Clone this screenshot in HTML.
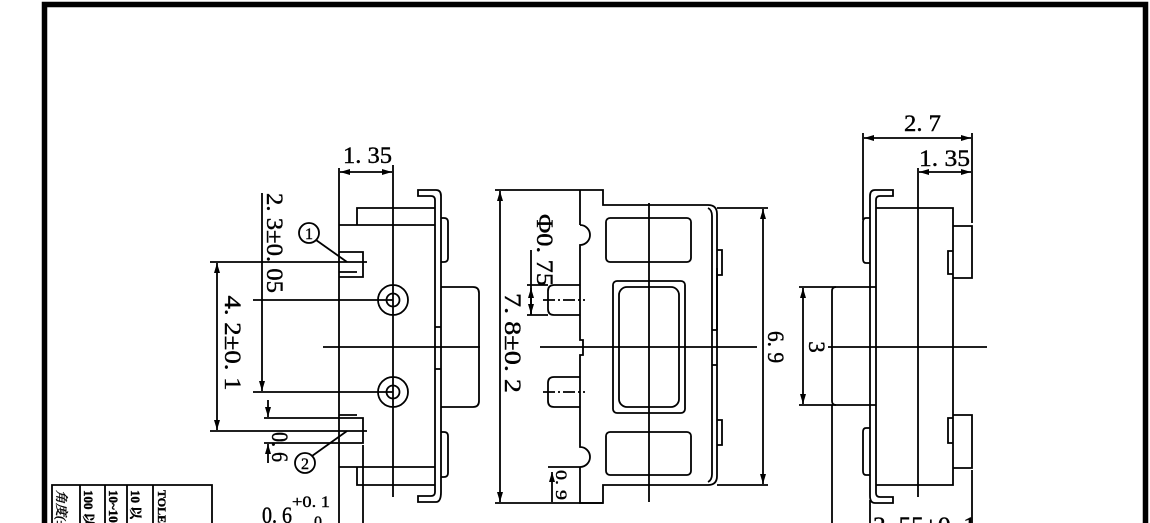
<!DOCTYPE html>
<html><head><meta charset="utf-8"><style>
html,body{margin:0;padding:0;background:#fff;width:1150px;height:523px;overflow:hidden}
svg{display:block}
text{font-family:"Liberation Serif","Noto Serif CJK SC",serif;fill:#000;stroke:#000;stroke-width:0.4}
</style></head><body>
<svg width="1150" height="523" viewBox="0 0 1150 523" xmlns="http://www.w3.org/2000/svg">
<defs>
<marker id="a" viewBox="0 0 10 6" refX="10" refY="3" markerWidth="10" markerHeight="6" markerUnits="userSpaceOnUse" orient="auto-start-reverse"><path d="M0,0 L10,3 L0,6 z" fill="#000" stroke="none"/></marker>
</defs>
<g fill="none" stroke="#000">
<path d="M44.5,530 V4.5 H1145.5 V530" stroke-width="5.5"/>
</g>
<g fill="none" stroke="#000" stroke-width="1.8">
<!-- ===== LEFT VIEW ===== -->
<line x1="339" y1="168" x2="339" y2="523"/>
<line x1="393" y1="165" x2="393" y2="497"/>
<line x1="340" y1="172" x2="392" y2="172" marker-start="url(#a)" marker-end="url(#a)"/>
<path d="M418,190 H436 Q441,190 441,196 V492 Q441,502 436,502 H418 V496 H431 Q435,496 435,492 V200 Q435,196 431,196 H418 Z"/>
<path d="M435,208 H357 V225"/>
<path d="M435,485 H357 V467"/>
<path d="M363,445 V523"/>
<path d="M339,225 H435 M339,467 H435"/>
<path d="M441,218 H444 Q448,218 448,222 V258 Q448,262 444,262 H441"/>
<path d="M441,432 H444 Q448,432 448,436 V473 Q448,477 444,477 H441"/>
<path d="M441,287 H473 Q479,287 479,293 V401 Q479,407 473,407 H441"/>
<path d="M435,327 H441 M435,369 H441"/>
<path d="M339,252 H363 V277 H339 M357,272 H339"/>
<path d="M339,415 H357 M339,418 H363 V443 H339"/>
<circle cx="393" cy="300" r="15"/><circle cx="393" cy="300" r="6.5"/>
<circle cx="393" cy="392" r="15"/><circle cx="393" cy="392" r="6.5"/>
<line x1="323" y1="347" x2="480" y2="347"/>
<line x1="210" y1="262" x2="367" y2="262"/>
<line x1="210" y1="431" x2="367" y2="431"/>
<line x1="217" y1="263" x2="217" y2="430" marker-start="url(#a)" marker-end="url(#a)"/>
<line x1="253" y1="300" x2="393" y2="300"/>
<line x1="253" y1="392" x2="393" y2="392"/>
<line x1="262" y1="193" x2="262" y2="391" marker-end="url(#a)"/>
<line x1="264" y1="418" x2="339" y2="418"/>
<line x1="264" y1="443" x2="339" y2="443"/>
<line x1="268" y1="400" x2="268" y2="417" marker-end="url(#a)"/>
<line x1="268" y1="463" x2="268" y2="444" marker-end="url(#a)"/>
<circle cx="309" cy="233" r="10"/><line x1="316" y1="240" x2="347" y2="262"/>
<circle cx="305" cy="463" r="10"/><line x1="312" y1="456" x2="347" y2="431"/>

<!-- ===== MIDDLE VIEW ===== -->
<line x1="495" y1="190" x2="580" y2="190"/>
<line x1="495" y1="503" x2="603" y2="503"/>
<line x1="500" y1="191" x2="500" y2="502" marker-start="url(#a)" marker-end="url(#a)"/>
<path d="M580,190 H603 V205 H708 Q717,205 717,214 V476 Q717,485 708,485 H603 V503 H580 V467 M580,190 V225"/>
<path d="M580,225 A10,10 0 0 1 580,245 V340 H583 V355 H580 V447 A10,10 0 0 1 580,467"/>
<path d="M708,208 Q712,210 712,216 V474 Q712,480 708,482"/>
<path d="M717,250 H722 V275 H717 M717,420 H722 V445 H717"/>
<path d="M717,268 V330 M712,330 H717 M712,365 H717"/>
<rect x="606" y="218" width="85" height="44" rx="4"/>
<rect x="606" y="432" width="85" height="43" rx="4"/>
<rect x="613" y="281" width="72" height="132" rx="4"/>
<rect x="619" y="287" width="60" height="120" rx="8"/>
<path d="M580,285 H554 Q548,285 548,291 V309 Q548,315 554,315 H580"/>
<path d="M580,377 H554 Q548,377 548,383 V401 Q548,407 554,407 H580"/>
<line x1="543" y1="300" x2="585" y2="300" stroke-dasharray="12,3,2,3"/>
<line x1="543" y1="392" x2="585" y2="392" stroke-dasharray="12,3,2,3"/>
<line x1="527" y1="285" x2="548" y2="285"/>
<line x1="527" y1="315" x2="548" y2="315"/>
<line x1="531" y1="250" x2="531" y2="315"/>
<line x1="531" y1="288" x2="531" y2="314" marker-start="url(#a)" marker-end="url(#a)"/>
<line x1="548" y1="467" x2="580" y2="467"/>
<line x1="552" y1="472" x2="552" y2="502" marker-start="url(#a)"/>
<line x1="540" y1="347" x2="757" y2="347"/>
<line x1="649" y1="203" x2="649" y2="502"/>
<line x1="717" y1="208" x2="768" y2="208"/>
<line x1="717" y1="485" x2="768" y2="485"/>
<line x1="763" y1="209" x2="763" y2="484" marker-start="url(#a)" marker-end="url(#a)"/>

<!-- ===== RIGHT VIEW ===== -->
<line x1="863" y1="133" x2="863" y2="220"/>
<line x1="972" y1="133" x2="972" y2="223"/>
<line x1="972" y1="470" x2="972" y2="523"/>
<line x1="864" y1="138" x2="971" y2="138" marker-start="url(#a)" marker-end="url(#a)"/>
<line x1="918" y1="168" x2="918" y2="497"/>
<line x1="919" y1="172" x2="971" y2="172" marker-start="url(#a)" marker-end="url(#a)"/>
<path d="M893,190 H875 Q870,190 870,196 V496 Q870,503 875,503 H893 V497 H880 Q876,497 876,493 V200 Q876,196 880,196 H893 Z"/>
<path d="M876,208 H953 V485 H876"/>
<path d="M953,226 H972 V278 H953 M953,251 H948 V274 H953"/>
<path d="M953,415 H972 V468 H953 M953,418 H948 V443 H953"/>
<path d="M870,218 H866 Q863,218 863,222 V259 Q863,263 866,263 H870"/>
<path d="M870,428 H866 Q863,428 863,432 V471 Q863,475 866,475 H870"/>
<path d="M876,287 H836 Q832,287 832,291 V401 Q832,405 836,405 H876"/>
<line x1="832" y1="405" x2="832" y2="523"/>
<line x1="870" y1="500" x2="870" y2="523"/>
<line x1="799" y1="287" x2="836" y2="287"/>
<line x1="799" y1="405" x2="836" y2="405"/>
<line x1="803" y1="288" x2="803" y2="404" marker-start="url(#a)" marker-end="url(#a)"/>
<line x1="828" y1="347" x2="987" y2="347"/>

<path d="M52,523 V485 H212 V523 M80,485 V523 M105,485 V523 M127,485 V523 M153,485 V523"/>
</g>

<g font-size="23">
<text x="343" y="163" textLength="49" lengthAdjust="spacingAndGlyphs">1. 35</text>
<text x="904" y="131" textLength="37" lengthAdjust="spacingAndGlyphs">2. 7</text>
<text x="919" y="166" textLength="51" lengthAdjust="spacingAndGlyphs">1. 35</text>
<text x="873" y="533" textLength="103" lengthAdjust="spacingAndGlyphs">2. 55±0. 1</text>
<text x="262" y="523" textLength="30" lengthAdjust="spacingAndGlyphs">0. 6</text>
<text x="292" y="507" font-size="16" textLength="38" lengthAdjust="spacingAndGlyphs">+0. 1</text>
<text x="314" y="527" font-size="16">0</text>
<text transform="translate(225,343) rotate(90)" text-anchor="middle" textLength="95" lengthAdjust="spacingAndGlyphs">4. 2±0. 1</text>
<text transform="translate(267,243) rotate(90)" text-anchor="middle" textLength="100" lengthAdjust="spacingAndGlyphs">2. 3±0. 05</text>
<text transform="translate(272,447) rotate(90)" text-anchor="middle" textLength="30" lengthAdjust="spacingAndGlyphs">0. 6</text>
<text transform="translate(505,343) rotate(90)" text-anchor="middle" textLength="100" lengthAdjust="spacingAndGlyphs">7. 8±0. 2</text>
<text transform="translate(537,250) rotate(90)" text-anchor="middle" textLength="72" lengthAdjust="spacingAndGlyphs">Φ0. 75</text>
<text transform="translate(556,485) rotate(90)" text-anchor="middle" font-size="16" textLength="30" lengthAdjust="spacingAndGlyphs">0. 9</text>
<text transform="translate(768,347) rotate(90)" text-anchor="middle" textLength="32" lengthAdjust="spacingAndGlyphs">6. 9</text>
<text transform="translate(809,347) rotate(90)" text-anchor="middle">3</text>
</g>
<g font-family="Liberation Sans">
<text x="309" y="239" text-anchor="middle" font-size="16">1</text>
<text x="305" y="469" text-anchor="middle" font-size="16">2</text>
</g>
<g font-size="13" font-weight="bold">
<text transform="translate(57,490) rotate(90)" font-weight="normal" font-style="italic">角度(±</text>
<text transform="translate(84,490) rotate(90)">100 以</text>
<text transform="translate(109,490) rotate(90)">10~100</text>
<text transform="translate(131,490) rotate(90)">10 以</text>
<text transform="translate(158,490) rotate(90)" font-size="12">TOLE</text>
</g>
</svg>
</body></html>
